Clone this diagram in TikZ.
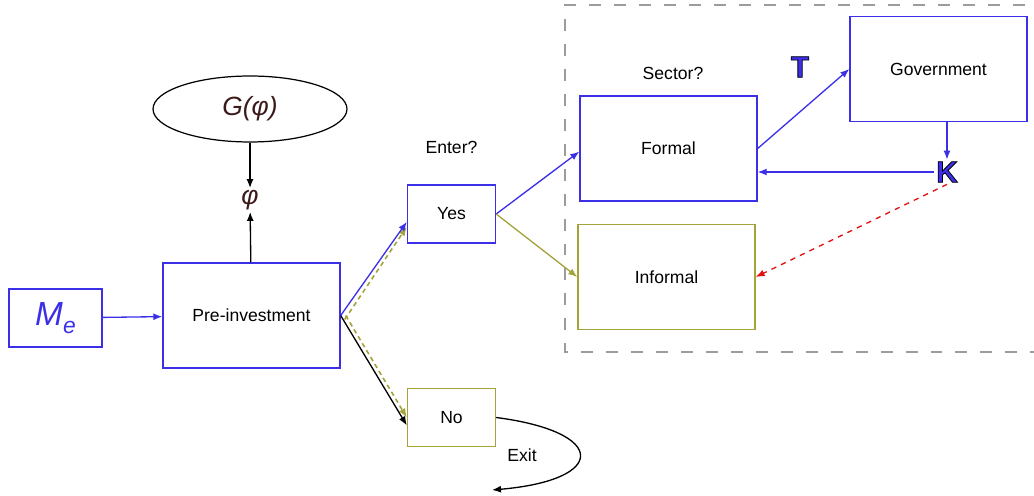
\documentclass[tikz,border=0pt]{standalone}
\usepackage{fontspec}
\setmainfont{Liberation Sans}
\usepackage{xcolor}
\usepackage{tikz}
\usetikzlibrary{arrows.meta,positioning,shapes.geometric,calc}
\definecolor{Lblue}{HTML}{3B30E8}
\definecolor{Lolive}{HTML}{A3A33A}
\definecolor{Lred}{HTML}{E01010}
\definecolor{Lgray}{HTML}{9C9C9C}
\definecolor{Lbrown}{HTML}{3C1A1A}
% outlined letters (fill + black stroke)
\newcommand{\outlined}[1]{\special{pdf:literal direct 2 Tr 0.45 w 0 0 0 RG}#1\special{pdf:literal direct 0 Tr}}

\begin{document}
\begin{tikzpicture}[
  x=0.02cm, y=-0.02cm, >={Latex[length=1.8mm,width=1.4mm]},
  font=\fontsize{10}{12}\selectfont,
  box/.style={draw, line width=0.8pt, minimum width=3.54cm, minimum height=2.1cm, align=center},
  small/.style={box, minimum width=1.76cm, minimum height=1.16cm},
  flow/.style={->, line width=0.75pt},
  olivedash/.style={flow, Lolive, line width=0.9pt, dash pattern=on 2.6pt off 2pt},
  tag/.style={font=\fontsize{10}{12}\selectfont},
  sym/.style={font=\fontsize{15}{18}\selectfont\itshape, text=Lbrown},
  tax/.style={font=\fontsize{17}{19}\selectfont\bfseries, text=Lblue},
]
\useasboundingbox (0,0) rectangle (1034,496);

% ── entrants and the pre-investment stage ────────────────────────────
\node[box, draw=Lblue, minimum width=1.86cm, minimum height=1.16cm] (Me) at (55.5,318)
  {\fontsize{19}{20}\selectfont\itshape\color{Lblue}M\raisebox{-0.45ex}{\fontsize{13}{14}\selectfont e}};
\node[box, draw=Lblue] (pre) at (251.5,315.5) {Pre-investment};

% ── productivity draw ────────────────────────────────────────────────
\node[ellipse, draw, line width=0.7pt, minimum width=3.88cm, minimum height=1.32cm, sym] (G) at (250,109) {G(φ)};
\node[sym, inner sep=1pt] (phi) at (250,200) {φ};

% ── entry decision ───────────────────────────────────────────────────
\node[small, draw=Lblue] (yes) at (451.5,214) {Yes};
\node[small, draw=Lolive] (no) at (451.5,417.5) {No};
\node[tag, above=0.48cm of yes] (enter) {Enter?};

% ── sector choice ────────────────────────────────────────────────────
\draw[Lgray, line width=1.2pt, dash pattern=on 6.8pt off 7.4pt]
  (1050,5) -- (565,5) -- (565,352) -- (1050,352);
\node[box, draw=Lblue] (formal) at (668.5,148.5) {Formal};
\node[box, draw=Lolive] (informal) at (666.5,277) {Informal};
\node[tag] (sector) at (673,73) {Sector?};

% ── government ───────────────────────────────────────────────────────
\node[box, draw=Lblue] (gov) at (938.5,69) {Government};
\node[tax] (T) at (800,67) {\outlined{T}};
\node[tax, inner sep=1pt] (K) at (947,172) {\outlined{K}};

% edges
\draw[flow, Lblue] (Me) -- (pre);
\draw[flow, black] (G) -- (phi);
\draw[flow, black] (pre) -- (phi);
\draw[olivedash] ($(pre.east)+(4,4)$) -- (yes.196);
\draw[olivedash] ($(pre.east)+(5,0)$) -- (no.west);
\draw[flow, Lblue] (pre.east) -- (yes.190);
\draw[flow, black] (pre.east) -- (no.190);
\draw[flow, Lblue] (yes.east) -- (formal.182);
\draw[flow, Lolive] (yes.east) -- (informal.west);
\draw[flow, Lblue] (formal.east) -- (gov.west);
\draw[flow, Lblue] (K |- gov.south) -- (K.north);
\draw[flow, Lblue] (K.west) -- (K.west -| formal.east);
\draw[flow, Lred, dashed] (K.south) -- (informal.east);

% ── exit loop ────────────────────────────────────────────────────────
\coordinate (out) at (492,490);
\draw[flow, black] (no.east) .. controls (608,432) and (608,480) .. (out);
\node[tag] (exit) at (522,455) {Exit};

\end{tikzpicture}
\end{document}
